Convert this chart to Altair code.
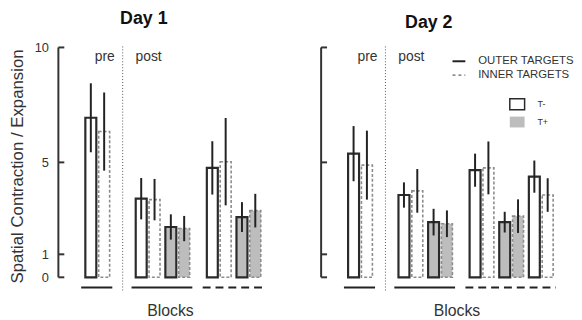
import altair as alt
import pandas as pd

# ---------------- data ----------------
blocks = ["pre", "1", "2", "3", "4", "5"]
conditions = ["T-", "T-", "T+", "T-", "T+", "T-"]
sessions = ["pre", "post1", "post1", "post2", "post2", "post2"]

day1_outer_mean = [6.94, 3.42, 2.19, 4.76, 2.62]
day1_outer_err = [1.50, 0.90, 0.55, 1.16, 0.65]
day1_inner_mean = [6.34, 3.38, 2.12, 5.03, 2.90]
day1_inner_err = [1.70, 0.90, 0.55, 1.90, 0.73]

day2_outer_mean = [5.38, 3.58, 2.40, 4.66, 2.40, 4.38]
day2_outer_err = [1.20, 0.55, 0.58, 0.72, 0.45, 0.70]
day2_inner_mean = [4.88, 3.76, 2.33, 4.76, 2.66, 3.58]
day2_inner_err = [1.50, 0.95, 0.58, 1.15, 0.73, 0.73]

y_ticks = [0, 1, 5, 10]
legend_targets = ["OUTER TARGETS", "INNER TARGETS"]
legend_conds = ["T-", "T+"]

# ---------------- layout / style ----------------
FONT = "Liberation Sans"
TXT = "#333333"
GREY = "#bdbdbd"
session_gap = {"pre": 0.0, "post1": 0.7, "post2": 1.1}
PAIR_OFF = 0.225
HALF_W = 0.185
PX_PER_UNIT = 30.0
X0 = -1.32
H = 249
YDOM = [-0.7, 10]


def panel(title, om, oe, im, ie, width, first, title_x, title_dx):
    n = len(om)
    rows = []
    centers = []
    for i in range(n):
        c = i + session_gap[sessions[i]]
        centers.append(c)
        for tgt, m, e, off in (("outer", om[i], oe[i], -PAIR_OFF),
                               ("inner", im[i], ie[i], PAIR_OFF)):
            rows.append(dict(block=blocks[i], cond=conditions[i], target=tgt,
                             center=c + off, mean=m, err=e))
    df = pd.DataFrame(rows)

    xscale = alt.Scale(domain=[X0, X0 + width / PX_PER_UNIT], nice=False, zero=False)
    yscale = alt.Scale(domain=YDOM, nice=False, zero=False)
    xaxis = alt.Axis(title="Blocks", labels=False, ticks=False, domain=False, grid=False,
                     titleFont=FONT, titleFontSize=16, titleFontWeight="normal",
                     titleColor=TXT, titlePadding=9, titleX=title_x)
    if first:
        yaxis = alt.Axis(title="Spatial Contraction / Expansion", values=y_ticks,
                         ticks=False, tickSize=0, domain=False, grid=False,
                         labelFont=FONT, labelFontSize=13, labelColor=TXT,
                         labelPadding=10, titleFont=FONT, titleFontSize=17,
                         titleFontWeight="normal", titleColor=TXT, titlePadding=8,
                         titleY=120)
    else:
        yaxis = None

    def X(f):
        return alt.X(f, scale=xscale, axis=xaxis)

    def Y(f):
        return alt.Y(f, scale=yscale, axis=yaxis)

    base = alt.Chart(df).transform_calculate(
        x1=f"datum.center - {HALF_W}", x2=f"datum.center + {HALF_W}",
        lo="datum.mean - datum.err", hi="datum.mean + datum.err", zero="0")

    fill = alt.Fill("cond:N", scale=alt.Scale(domain=legend_conds, range=["white", GREY]),
                    legend=None)
    outer = base.transform_filter("datum.target == 'outer'").mark_rect(
        stroke="#2a2a2a", strokeWidth=2.2).encode(
        x=X("x1:Q"), x2="x2:Q", y=Y("mean:Q"), y2="zero:Q", fill=fill)
    inner = base.transform_filter("datum.target == 'inner'").mark_rect(
        stroke="#8c8c8c", strokeWidth=1.6, strokeDash=[3, 2]).encode(
        x=X("x1:Q"), x2="x2:Q", y=Y("mean:Q"), y2="zero:Q", fill=fill)
    errs = base.mark_rule(color="#222222", strokeWidth=2).encode(
        x=X("center:Q"), y=Y("lo:Q"), y2="hi:Q")

    # hand-drawn y axis (line + inward ticks)
    axis_line = alt.Chart(pd.DataFrame({"lo": [y_ticks[0]], "hi": [y_ticks[-1]]})).mark_rule(
        color="#333333", strokeWidth=2).encode(x=alt.value(0), y=Y("lo:Q"), y2="hi:Q")
    axis_ticks = alt.Chart(pd.DataFrame({"t": y_ticks})).mark_rule(
        color="#333333", strokeWidth=2).encode(x=alt.value(0), x2=alt.value(6), y=Y("t:Q"))

    # divider between pre and post
    div = (centers[0] + centers[1]) / 2
    ddf = pd.DataFrame({"x": [div], "pre": ["pre"], "post": ["post"]})
    divider = alt.Chart(ddf).mark_rule(color="#555555", strokeWidth=1, strokeDash=[1, 2]).encode(
        x=X("x:Q"), y=alt.value(-1), y2=alt.value(247))
    pre_t = alt.Chart(ddf).mark_text(align="right", baseline="middle", dx=-8, font=FONT,
                                     fontSize=14, color=TXT).encode(
        x=X("x:Q"), y=alt.value(10), text="pre:N")
    post_t = alt.Chart(ddf).mark_text(align="left", baseline="middle", dx=13, font=FONT,
                                      fontSize=14, color=TXT).encode(
        x=X("x:Q"), y=alt.value(10), text="post:N")

    # session underlines
    urows = []
    for s, style in (("pre", "solid"), ("post1", "solid"), ("post2", "dashed")):
        cs = [centers[i] for i in range(n) if sessions[i] == s]
        urows.append(dict(s=s, style=style, a=min(cs) - 0.55, b=max(cs) + 0.5))
    under = alt.Chart(pd.DataFrame(urows)).mark_rule(color="#222222", strokeWidth=2).encode(
        x=X("a:Q"), x2="b:Q", y=alt.value(243),
        strokeDash=alt.StrokeDash("style:N", scale=alt.Scale(domain=["solid", "dashed"],
                                                              range=[[1, 0], [8, 5]]),
                                  legend=None))

    layers = [divider, outer, inner, errs, axis_line, axis_ticks, pre_t, post_t, under]

    if not first:
        lt = pd.DataFrame({"label": legend_targets})
        lc = pd.DataFrame({"label": legend_conds})
        leg = [
            alt.Chart(lt.iloc[[0]]).mark_rule(color="#222222", strokeWidth=2).encode(
                x=alt.value(133), x2=alt.value(146), y=alt.value(14)),
            alt.Chart(lt.iloc[[1]]).mark_rule(color="#666666", strokeWidth=1.2,
                                              strokeDash=[3, 3]).encode(
                x=alt.value(133), x2=alt.value(146), y=alt.value(28)),
            alt.Chart(lt.iloc[[0]]).mark_text(align="left", baseline="middle", font=FONT,
                                              fontSize=11.5, color=TXT).encode(
                x=alt.value(159), y=alt.value(14), text="label:N"),
            alt.Chart(lt.iloc[[1]]).mark_text(align="left", baseline="middle", font=FONT,
                                              fontSize=11.5, color=TXT).encode(
                x=alt.value(159), y=alt.value(28), text="label:N"),
            alt.Chart(lc.iloc[[0]]).mark_rect(fill="white", stroke="#2a2a2a",
                                              strokeWidth=1.5).encode(
                x=alt.value(191), x2=alt.value(206), y=alt.value(52), y2=alt.value(63)),
            alt.Chart(lc.iloc[[1]]).mark_rect(fill=GREY).encode(
                x=alt.value(191), x2=alt.value(206), y=alt.value(70), y2=alt.value(81)),
            alt.Chart(lc.iloc[[0]]).mark_text(align="left", baseline="middle", font=FONT,
                                              fontSize=9, color=TXT).encode(
                x=alt.value(219), y=alt.value(57), text="label:N"),
            alt.Chart(lc.iloc[[1]]).mark_text(align="left", baseline="middle", font=FONT,
                                              fontSize=9, color=TXT).encode(
                x=alt.value(219), y=alt.value(76), text="label:N"),
        ]
        layers += leg

    return alt.layer(*layers).properties(
        width=width, height=H,
        title=alt.TitleParams(title, font=FONT, fontSize=18, fontWeight="bold",
                              color="#111111", dx=title_dx, offset=14))


p1 = panel("Day 1", day1_outer_mean, day1_outer_err, day1_inner_mean, day1_inner_err,
           213, True, 113, -20)
p2 = panel("Day 2", day2_outer_mean, day2_outer_err, day2_inner_mean, day2_inner_err,
           252, False, 137, -17)

chart = alt.hconcat(p1, p2, spacing=52).properties(
    padding={"left": 0, "top": 0, "right": 0, "bottom": 0}
).configure(background="white").configure_view(stroke=None)

chart.save("out.html", embed_options={"renderer": "svg", "actions": False})
